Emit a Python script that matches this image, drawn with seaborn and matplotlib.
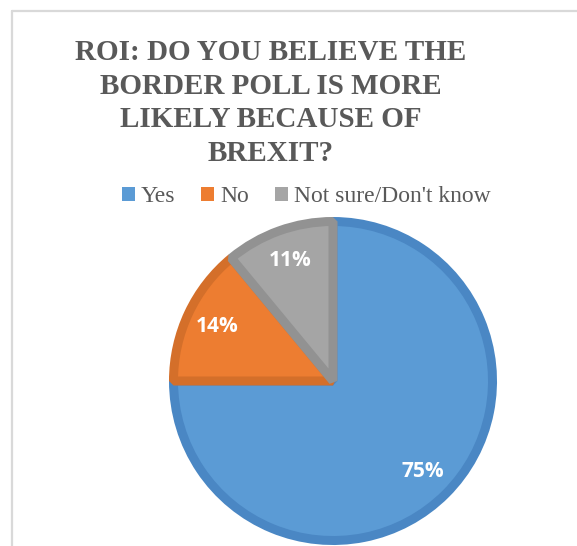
import matplotlib
matplotlib.use("Agg")
import matplotlib.pyplot as plt
from matplotlib.patches import Patch
from matplotlib.lines import Line2D
import seaborn as sns

# Survey answers (percent)
categories = ["Yes", "No", "Not sure/Don't know"]
shares = [75, 14, 11]
fill_colors = ["#5B9BD5", "#ED7D31", "#A5A5A5"]
edge_colors = ["#4A87C4", "#D46F2A", "#929292"]
title_text = "ROI: DO YOU BELIEVE THE\nBORDER POLL IS MORE\nLIKELY BECAUSE OF\nBREXIT?"

sns.set_theme(style="white")
plt.rcParams["font.family"] = ["Liberation Serif", "DejaVu Serif"]

W, H = 577, 546
fig = plt.figure(figsize=(W / 100, H / 100), dpi=100)
fig.patch.set_facecolor("white")

# axes in pixel units so the pie can be placed precisely
ax = fig.add_axes([0, 0, 1, 1])

# outer chart frame (only the left and top edges fall inside the image)
frame_color = "#D9D9D9"
ax.add_line(Line2D([12, 12], [0, H - 11], color=frame_color, lw=1.6))
ax.add_line(Line2D([12, W], [H - 11, H - 11], color=frame_color, lw=1.6))

border_px = 9
wedges, texts, autotexts = ax.pie(
    shares,
    colors=fill_colors,
    startangle=90,
    counterclock=False,
    center=(333, H - 381),
    radius=164 - border_px / 2,
    explode=[0.012, 0.012, 0.012],
    autopct="%.0f%%",
    pctdistance=0.8,
    frame=True,
    wedgeprops=dict(linewidth=border_px * 0.72, joinstyle="bevel"),
    textprops=dict(color="white", fontsize=15, fontweight="bold",
                   family=["Open Sans", "DejaVu Sans"]),
)
ax.set_xlim(0, W)
ax.set_ylim(0, H)
ax.set_aspect("equal")
ax.axis("off")

# darker border on each slice
for w, ec in zip(wedges, edge_colors):
    w.set_edgecolor(ec)

fig.text(271 / W, 1 - 103 / H, title_text, ha="center", va="center",
         fontsize=21, fontweight="bold", color="#595959", linespacing=1.32)

handles = [Patch(facecolor=c, edgecolor="none") for c in fill_colors]
leg = fig.legend(handles, categories, loc="center", bbox_to_anchor=(306 / W, 1 - 197 / H),
                 ncol=3, frameon=False, fontsize=17, handlelength=0.55, handleheight=0.55,
                 handletextpad=0.25, columnspacing=1.1, borderaxespad=0, borderpad=0)
for t in leg.get_texts():
    t.set_color("#595959")

fig.savefig("out.png", dpi=100, facecolor="white")
